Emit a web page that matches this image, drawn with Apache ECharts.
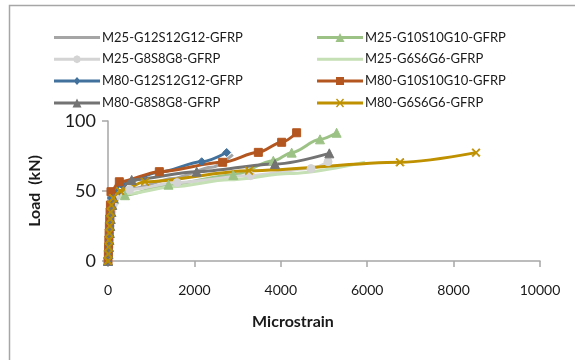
<!DOCTYPE html>
<html>
<head>
<meta charset="utf-8">
<script src="https://cdn.jsdelivr.net/npm/echarts@6/dist/echarts.min.js"></script>
<style>
  html, body { margin: 0; padding: 0; background: #fff; }
  #chart { width: 575px; height: 360px; }
</style>
</head>
<body>
<div id="chart"></div>
<script>
// strain (microstrain) / load (kN)
const m25g12Strain = [0, 10, 20, 30, 42, 55, 70, 90, 120, 200, 600, 1500, 2400, 2890];
const m25g12Load   = [0, 5, 10, 15, 20, 25, 30, 35, 40, 45, 52, 59, 67, 76];

const m25g10Strain = [0, 10, 20, 30, 40, 50, 65, 80, 100, 140, 393, 1400, 2900, 3827, 4252, 4907, 5292];
const m25g10Load   = [0, 5, 10, 15, 20, 25, 30, 35, 40, 44, 47, 54.5, 61.5, 71.6, 77.4, 86.9, 91.6];

const m25g8Strain = [0, 10, 20, 30, 40, 55, 70, 90, 120, 170, 500, 1600, 3300, 4700, 5093];
const m25g8Load   = [0, 5, 10, 15, 20, 25, 30, 35, 40, 45, 51, 56, 61, 66, 70.9];

const m25g6Strain = [0, 10, 20, 30, 40, 55, 70, 90, 120, 170, 450, 1500, 2800, 4200, 5950];
const m25g6Load   = [0, 5, 10, 15, 20, 25, 30, 35, 40, 44, 48, 53, 58, 62.5, 70.5];

const m80g12Strain = [0, 8, 15, 22, 30, 38, 45, 55, 65, 80, 300, 1200, 2168, 2747];
const m80g12Load   = [0, 5, 10, 15, 20, 25, 30, 35, 40, 45, 55, 63.5, 70.9, 77.5];

const m80g10Strain = [0, 8, 14, 20, 26, 32, 40, 48, 56, 69, 262, 1188, 2654, 3480, 4020, 4366];
const m80g10Load   = [0, 5, 10, 15, 20, 25, 30, 35, 40, 49.5, 56.6, 63.8, 70.5, 77.6, 84.8, 91.6];

const m80g8Strain = [0, 10, 20, 30, 40, 50, 60, 75, 95, 130, 548, 2053, 3866, 5123];
const m80g8Load   = [0, 5, 10, 15, 20, 25, 30, 35, 40, 45, 57.9, 63.8, 69.3, 76.9];

const m80g6Strain = [0, 8, 16, 24, 32, 40, 50, 62, 80, 120, 280, 856, 3264, 6759, 8519];
const m80g6Load   = [0, 5, 10, 15, 20, 25, 30, 35, 40, 45, 50, 56.6, 64.5, 70.5, 77.4];

const legendLeft  = ['M25-G12S12G12-GFRP', 'M25-G8S8G8-GFRP', 'M80-G12S12G12-GFRP', 'M80-G8S8G8-GFRP'];
const legendRight = ['M25-G10S10G10-GFRP', 'M25-G6S6G6-GFRP', 'M80-G10S10G10-GFRP', 'M80-G6S6G6-GFRP'];

const crossIcon = 'path://M1,0L5,4L9,0L10,1L6,5L10,9L9,10L5,6L1,10L0,9L4,5L0,1Z';

// legend glyphs: a 46x12 box, line through the middle plus the marker
const boxPts = 'M0,0L0.01,0L0,0.01Z M0,12L0.01,12L0,11.99Z M46,0L45.99,0L46,0.01Z ';
const lineBar = 'M0,4.5L46,4.5L46,7.5L0,7.5Z ';
const icons = {
  none: 'path://' + boxPts + lineBar,
  circle: 'path://' + boxPts + lineBar + 'M23,2L25.8,3.2L27,6L25.8,8.8L23,10L20.2,8.8L19,6L20.2,3.2Z',
  triangle: 'path://' + boxPts + lineBar + 'M18.5,10.5L23,1.5L27.5,10.5Z',
  diamond: 'path://' + boxPts + lineBar + 'M23,2L26.5,6L23,10L19.5,6Z',
  rect: 'path://' + boxPts + lineBar + 'M19,2L27,2L27,10L19,10Z',
  cross: 'path://' + boxPts + lineBar + 'M19,2.5L20,1.5L23,4.8L26,1.5L27,2.5L23.8,6L27,9.5L26,10.5L23,7.2L20,10.5L19,9.5L22.2,6Z'
};
const legendIcon = {
  'M25-G12S12G12-GFRP': 'none',
  'M25-G10S10G10-GFRP': 'triangle',
  'M25-G8S8G8-GFRP': 'circle',
  'M25-G6S6G6-GFRP': 'none',
  'M80-G12S12G12-GFRP': 'diamond',
  'M80-G10S10G10-GFRP': 'rect',
  'M80-G8S8G8-GFRP': 'triangle',
  'M80-G6S6G6-GFRP': 'cross'
};

function pairs(xs, ys) {
  return xs.map((x, i) => [x, ys[i]]);
}

function mkSeries(name, xs, ys, color, symbol, size) {
  return {
    name: name,
    type: 'line',
    data: pairs(xs, ys),
    smooth: 0.3,
    smoothMonotone: 'x',
    symbol: symbol,
    symbolSize: size || 7,
    showAllSymbol: true,
    lineStyle: { color: color, width: 3 },
    itemStyle: { color: color, borderColor: color },
    emphasis: { disabled: true },
    z: 2
  };
}

function legendItems(names) {
  return names.map(n => ({ name: n, icon: icons[legendIcon[n]] }));
}

const chart = echarts.init(document.getElementById('chart'));
const txtFont = 'Lato, "Liberation Sans", sans-serif';

chart.setOption({
  animation: false,
  backgroundColor: '#fff',
  textStyle: { fontFamily: txtFont },
  graphic: [{
    type: 'rect',
    shape: { x: 9.5, y: 5.5, width: 620, height: 400 },
    style: { fill: 'none', stroke: '#a6a6a6', lineWidth: 1.5 },
    silent: true
  }],
  legend: [{
    data: legendItems(legendLeft),
    orient: 'vertical',
    left: 49,
    top: 26,
    itemWidth: 46,
    itemHeight: 12,
    itemGap: 8.8,
    textStyle: { fontSize: 13, color: '#1a1a1a', fontFamily: txtFont, padding: [0, 0, 0, -3] }
  }, {
    data: legendItems(legendRight),
    orient: 'vertical',
    left: 312,
    top: 26,
    itemWidth: 46,
    itemHeight: 12,
    itemGap: 8.8,
    textStyle: { fontSize: 13, color: '#1a1a1a', fontFamily: txtFont, padding: [0, 0, 0, -3] }
  }],
  grid: { left: 108, right: 35, top: 121, bottom: 99 },
  xAxis: {
    type: 'value',
    min: 0,
    max: 10000,
    interval: 2000,
    name: 'Microstrain',
    nameLocation: 'middle',
    nameGap: 53,
    nameTextStyle: { fontSize: 16, fontWeight: 'bold', color: '#1a1a1a', padding: [0, 62, 0, 0] },
    axisLine: { show: true, lineStyle: { color: '#a6a6a6', width: 1.5 } },
    axisTick: { show: true, inside: false, length: 6, lineStyle: { color: '#a6a6a6', width: 1.5 } },
    axisLabel: { fontSize: 14, color: '#1a1a1a', margin: 22, formatter: v => String(v) },
    splitLine: { show: false }
  },
  yAxis: {
    type: 'value',
    min: 0,
    max: 100,
    interval: 50,
    name: 'Load  (kN)',
    nameLocation: 'middle',
    nameGap: 65,
    nameTextStyle: { fontSize: 16, fontWeight: 'bold', color: '#1a1a1a' },
    axisLine: { show: true, lineStyle: { color: '#a6a6a6', width: 1.5 } },
    axisTick: { show: true, inside: false, length: 6, lineStyle: { color: '#a6a6a6', width: 1.5 } },
    axisLabel: { fontSize: 18, color: '#1a1a1a', margin: 12 },
    splitLine: { show: false }
  },
  series: [
    mkSeries('M25-G12S12G12-GFRP', m25g12Strain, m25g12Load, '#a5a5a5', 'none'),
    mkSeries('M25-G10S10G10-GFRP', m25g10Strain, m25g10Load, '#9cc286', 'triangle', 9),
    mkSeries('M25-G8S8G8-GFRP', m25g8Strain, m25g8Load, '#d4d4d4', 'circle', 8),
    mkSeries('M25-G6S6G6-GFRP', m25g6Strain, m25g6Load, '#c5e0b4', 'none'),
    mkSeries('M80-G12S12G12-GFRP', m80g12Strain, m80g12Load, '#41719c', 'diamond', 8),
    mkSeries('M80-G10S10G10-GFRP', m80g10Strain, m80g10Load, '#b4561f', 'rect', 8),
    mkSeries('M80-G8S8G8-GFRP', m80g8Strain, m80g8Load, '#737373', 'triangle', 9),
    mkSeries('M80-G6S6G6-GFRP', m80g6Strain, m80g6Load, '#bf9000', crossIcon, 8)
  ]
});
</script>
</body>
</html>
